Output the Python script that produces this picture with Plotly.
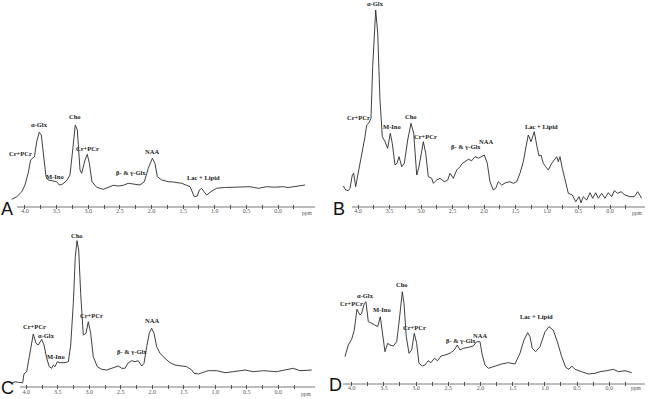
import plotly.graph_objects as go

# ---------------- data (chemical shift in ppm, signal in arbitrary units) -------------
ppm_A = [4.21, 4.13, 4.05, 4.00, 3.95, 3.91, 3.885, 3.85, 3.815, 3.774, 3.742, 3.711, 3.668, 3.632,
         3.553, 3.499, 3.458, 3.404, 3.341, 3.289, 3.246, 3.205, 3.173, 3.130, 3.104, 3.051, 3.015,
         2.983, 2.941, 2.866, 2.762, 2.683, 2.604, 2.525, 2.446, 2.367, 2.288, 2.182, 2.114, 2.051,
         1.987, 1.945, 1.908, 1.839, 1.734, 1.655, 1.523, 1.391, 1.323, 1.276, 1.244, 1.206, 1.170,
         1.127, 1.064, 0.969, 0.85, 0.707, 0.58, 0.443, 0.311, 0.179, 0.05, -0.084, -0.16, -0.242,
         -0.33, -0.427]
sig_A = [7.7, 10.3, 15.3, 22, 33.7, 47, 48.7, 50.3, 65.3, 74.7, 72, 53.7, 30.3, 27,
         26.3, 25.3, 22, 23, 26.3, 32, 57, 82, 77, 37, 33.7, 47, 52.7,
         43.7, 25.3, 19.7, 17.7, 19.7, 21.7, 21, 21.7, 23.7, 23, 22, 25.3, 38.7,
         48.7, 43.7, 30.3, 27, 25.3, 25, 23.7, 20.3, 10.3, 11, 17, 18.7, 15.3,
         12, 15.3, 18.7, 19.5, 19.7, 20.5, 20.3, 18.7, 20.3, 19.8, 20.3, 19.5, 20.3,
         21, 22]

ppm_B = [4.233, 4.195, 4.154, 4.127, 4.090, 4.068, 4.037, 3.995, 3.941, 3.889, 3.862, 3.825, 3.794,
         3.767, 3.719, 3.687, 3.651, 3.614, 3.571, 3.529, 3.487, 3.456, 3.413, 3.381, 3.349, 3.306,
         3.265, 3.211, 3.159, 3.116, 3.068, 3.032, 2.963, 2.925, 2.884, 2.830, 2.805, 2.751, 2.698,
         2.630, 2.576, 2.540, 2.487, 2.433, 2.381, 2.344, 2.302, 2.249, 2.195, 2.143, 2.090, 2.037,
         1.995, 1.948, 1.905, 1.852, 1.814, 1.773, 1.719, 1.656, 1.587, 1.535, 1.481, 1.429, 1.376,
         1.333, 1.297, 1.254, 1.202, 1.159, 1.127, 1.095, 1.059, 1.021, 0.979, 0.925, 0.884, 0.846,
         0.821, 0.794, 0.757, 0.714, 0.662, 0.598, 0.544, 0.492, 0.460, 0.424, 0.370, 0.317, 0.275,
         0.227, 0.186, 0.132, 0.079, 0.027, -0.027, -0.068, -0.122, -0.175, -0.238, -0.317, -0.386,
         -0.440, -0.503]
sig_B = [21, 17, 16.3, 18.7, 32, 33.7, 20.3, 33.7, 53.7, 70.3, 82, 84.3, 88.7,
         140.3, 197, 173.7, 107, 70.3, 65.3, 58.7, 73.7, 63.7, 42, 43.7, 50.3, 40.3,
         43.7, 67, 83.7, 73.7, 32, 40.3, 65.3, 53.7, 30.3, 28.7, 23.7, 27, 28.7,
         25.3, 27, 33.7, 28.7, 37, 40.3, 43.7, 45.3, 47.7, 46.3, 50.3, 48.7, 51,
         52, 43.7, 25.3, 17, 18.7, 25.3, 22, 24.3, 25.3, 23.7, 25.3, 33.7, 45.3,
         60.3, 72, 65.3, 75.3, 60.3, 51, 52, 43.7, 40.3, 37, 43.7, 47.7, 50.3,
         45.3, 50.3, 38.7, 27, 13.7, 12, 5.3, 10.3, 4.3, 10.3, 7, 14.3, 8.7,
         14.3, 8.7, 13.7, 8.7, 14.3, 10.3, 16.3, 13.7, 15.3, 12, 10.3, 10.3,
         15.3, 8.7]

ppm_C = [4.232, 4.179, 4.127, 4.057, 4.037, 3.994, 3.952, 3.914, 3.889, 3.846, 3.810, 3.756, 3.719,
         3.676, 3.635, 3.597, 3.571, 3.544, 3.508, 3.465, 3.386, 3.333, 3.295, 3.254, 3.222, 3.195,
         3.168, 3.137, 3.095, 3.052, 3.016, 2.978, 2.937, 2.873, 2.803, 2.724, 2.644, 2.592, 2.540,
         2.486, 2.433, 2.381, 2.327, 2.275, 2.222, 2.168, 2.132, 2.089, 2.048, 2.010, 1.973, 1.930,
         1.878, 1.798, 1.719, 1.640, 1.533, 1.454, 1.375, 1.338, 1.270, 1.190, 1.111, 0.978, 0.846,
         0.714, 0.529, 0.397, 0.238, 0.025, -0.106, -0.238, -0.344, -0.530]
sig_C = [3.7, 5.3, 4.7, 4.3, 13, 15.3, 30.3, 47, 53, 43.7, 42, 47.7, 42,
         28.7, 20.3, 18.7, 22, 20.3, 25.3, 24.3, 24.3, 25.3, 42, 83.7, 130.3, 146.3,
         137, 93.7, 52, 53.7, 65.3, 53.7, 30.3, 20.3, 17.7, 17, 18.7, 20.3, 21,
         18.7, 18.7, 24.3, 26.3, 25.3, 26.3, 21, 23.7, 40.3, 53.7, 58.7, 53.7, 40.3,
         33.7, 28.7, 24.3, 22, 21.3, 20.3, 17, 13.7, 13, 14.3, 16.3, 16.3, 14.3,
         15.3, 17, 15.3, 16.3, 15.3, 17, 18.7, 16.3, 17]

ppm_D = [4.104, 4.053, 4.000, 3.960, 3.918, 3.871, 3.845, 3.804, 3.778, 3.742, 3.689, 3.638, 3.596,
         3.556, 3.525, 3.483, 3.441, 3.405, 3.354, 3.301, 3.266, 3.234, 3.214, 3.188, 3.152, 3.110,
         3.068, 3.028, 2.991, 2.955, 2.904, 2.862, 2.811, 2.769, 2.717, 2.665, 2.613, 2.551, 2.474,
         2.407, 2.360, 2.318, 2.267, 2.189, 2.112, 2.059, 2.008, 1.972, 1.930, 1.879, 1.775, 1.671,
         1.568, 1.464, 1.387, 1.325, 1.267, 1.231, 1.196, 1.143, 1.076, 0.998, 0.936, 0.870, 0.807,
         0.739, 0.677, 0.626, 0.584, 0.533, 0.429, 0.326, 0.222, 0.144, 0.040, -0.062, -0.140,
         -0.244, -0.348]
sig_D = [27.3, 39, 44.7, 54, 74.7, 69, 70.7, 80.7, 82.3, 62.3, 60.7, 59, 57.3,
         67.3, 52.3, 32.3, 40.7, 39, 38, 42.3, 60.7, 84, 92.3, 80.7, 47.3, 30.7,
         34, 50.7, 40.7, 20.7, 18, 19, 23.3, 21.3, 25.7, 23.3, 28, 29, 30.7,
         34, 39, 34, 35.7, 36.7, 38, 42.3, 42.3, 29, 19, 15.7, 18, 20,
         21.3, 20, 30.7, 44, 51.3, 47.3, 35.7, 32.3, 37.3, 52.3, 57.3, 54, 42.3,
         27.3, 16.7, 14.7, 18, 14.7, 12.3, 10, 10.7, 12.3, 13.3, 14.7, 12.3,
         13.3, 11.3]

# peak labels: (text, ppm, signal)
labels_A = [("Cr+PCr", 4.068, 53.7), ("α-Glx", 3.774, 83), ("Cho", 3.205, 91), ("Cr+PCr", 3.015, 58.7),
            ("M-Ino", 3.526, 31), ("β- & γ-Glx", 2.324, 34.3), ("NAA", 1.992, 55.3), ("Lac + Lipid", 1.181, 29.7)]
labels_B = [("α-Glx", 3.730, 203.7), ("Cr+PCr", 3.995, 89.7), ("M-Ino", 3.465, 81), ("Cho", 3.159, 91),
            ("Cr+PCr", 2.921, 71), ("β- & γ-Glx", 2.286, 61), ("NAA", 1.973, 65.3), ("Lac + Lipid", 1.095, 81)]
labels_C = [("Cr+PCr", 3.862, 60.3), ("α-Glx", 3.676, 52), ("Cho", 3.200, 152), ("M-Ino", 3.529, 31),
            ("Cr+PCr", 2.962, 72), ("β- & γ-Glx", 2.327, 35.3), ("NAA", 2.010, 67)]
labels_D = [("Cr+PCr", 4.006, 80.5), ("α-Glx", 3.778, 89), ("M-Ino", 3.525, 74.7), ("Cho", 3.214, 100),
            ("Cr+PCr", 3.017, 56.7), ("β- & γ-Glx", 2.303, 43.3), ("NAA", 2.008, 49), ("Lac + Lipid", 1.127, 67.3)]

major_ticks = [4.0, 3.5, 3.0, 2.5, 2.0, 1.5, 1.0, 0.5, 0.0]
major_text = ["4.0", "3.5", "3.0", "2.5", "2.0", "1.5", "1.0", "0.5", "0.0"]
minor_ticks = [3.75, 3.25, 2.75, 2.25, 1.75, 1.25, 0.75, 0.25, -0.25]
panel_letters = ["A", "B", "C", "D"]

W, H = 650, 399

# layout per panel: pixel box (left, right, top, bottom axis), x range, axis-line extent
panels = [
    dict(ppm=ppm_A, sig=sig_A, labels=labels_A, px=(5, 318, 100, 207), xr=(4.316, -0.632),
         axis=(4.126, -0.585), letter=(6.7, 208.5, "middle"), unit=(307, 212.5), stand=-3),
    dict(ppm=ppm_B, sig=sig_B, labels=labels_B, px=(335, 648, 0, 207), xr=(4.365, -0.603),
         axis=(4.095, -0.556), letter=(338.5, 208.5, "middle"), unit=(637, 213), stand=-3),
    dict(ppm=ppm_C, sig=sig_C, labels=labels_C, px=(5, 318, 225, 387), xr=(4.338, -0.630),
         axis=(4.10, -0.583), letter=(7.2, 399, "bottom"), unit=(306, 394), stand=-2),
    dict(ppm=ppm_D, sig=sig_D, labels=labels_D, px=(335, 648, 280, 384), xr=(4.259, -0.601),
         axis=(4.135, -0.553), letter=(335.5, 384.5, "middle"), unit=(636, 387.5), stand=-3),
]

fig = go.Figure()
annotations = []
shapes = []
layout_axes = {}
PAD = 2
for i, p in enumerate(panels, start=1):
    L, R, T, B = p["px"]
    xa = "x" if i == 1 else f"x{i}"
    ya = "y" if i == 1 else f"y{i}"
    fig.add_trace(go.Scatter(x=p["ppm"], y=p["sig"], mode="lines", xaxis=xa, yaxis=ya,
                             line=dict(color="#2a2a2a", width=0.9), showlegend=False,
                             hoverinfo="skip"))
    key_x = "xaxis" if i == 1 else f"xaxis{i}"
    key_y = "yaxis" if i == 1 else f"yaxis{i}"
    layout_axes[key_x] = dict(
        domain=[L / W, R / W], range=list(p["xr"]), anchor=ya,
        showgrid=False, zeroline=False, showline=False,
        tickmode="array", tickvals=major_ticks, ticktext=major_text,
        ticks="inside", ticklen=4, tickwidth=0.8, tickcolor="#555",
        ticklabelstandoff=p["stand"],
        tickfont=dict(family="Liberation Serif", size=6, color="#555"),
        minor=dict(tickvals=minor_ticks, ticks="inside", ticklen=4, tickwidth=0.8, tickcolor="#555"),
        fixedrange=True,
    )
    hgt = B - T
    layout_axes[key_y] = dict(
        domain=[1 - (B + PAD) / H, 1 - T / H], range=[-PAD, hgt], anchor=xa,
        visible=False, fixedrange=True,
    )
    shapes.append(dict(type="line", xref=xa, yref=ya, x0=p["axis"][0], x1=p["axis"][1], y0=0, y1=0,
                       line=dict(color="#555", width=0.8)))
    for txt, xv, yv in p["labels"]:
        annotations.append(dict(text=f"<b>{txt}</b>", x=xv, y=yv, xref=xa, yref=ya, showarrow=False,
                                xanchor="center", yanchor="middle",
                                font=dict(family="Liberation Serif", size=6.5, color="#222")))
    lx, ly, lanchor = p["letter"]
    annotations.append(dict(text=panel_letters[i - 1], x=lx / W, y=1 - ly / H,
                            xref="paper", yref="paper", showarrow=False, xanchor="center",
                            yanchor=lanchor, borderpad=0,
                            font=dict(family="Liberation Sans", size=18, color="#111")))
    annotations.append(dict(text="ppm", x=p["unit"][0] / W, y=1 - p["unit"][1] / H,
                            xref="paper", yref="paper", showarrow=False, xanchor="center",
                            yanchor="middle", font=dict(family="Liberation Serif", size=5.5, color="#555")))

fig.update_layout(width=W, height=H, margin=dict(l=0, r=0, t=0, b=0),
                  paper_bgcolor="white", plot_bgcolor="white",
                  annotations=annotations, shapes=shapes, **layout_axes)

fig.write_html("out.html", config={"displayModeBar": False},
               post_script="document.body.style.margin='0px';document.body.style.overflow='hidden';")
